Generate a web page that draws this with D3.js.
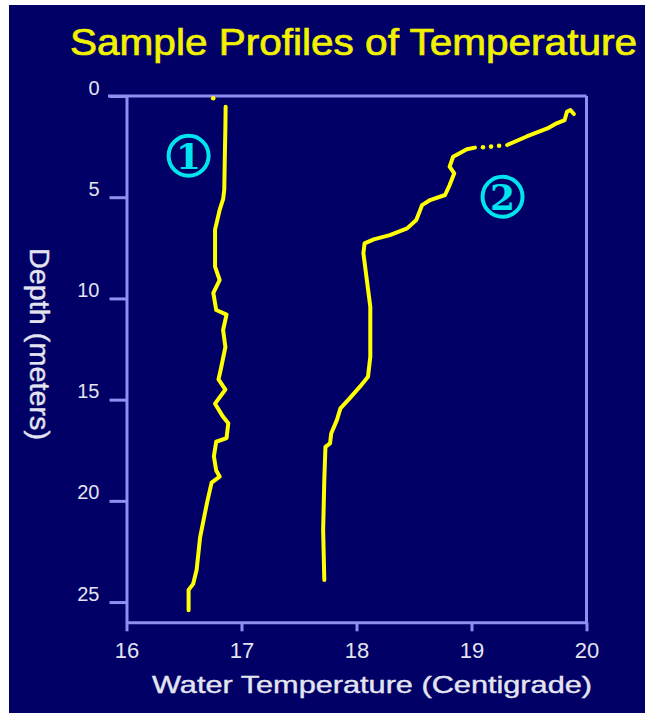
<!DOCTYPE html>
<html>
<head>
<meta charset="utf-8">
<script src="https://cdn.jsdelivr.net/npm/d3@7"></script>
<style>
  body { margin: 0; background: #fff; }
  svg { display: block; }
</style>
</head>
<body>
<div class="chart"></div>
<script>
// profile 1 (left) - depth in meters, temperature in C
const profile1Depth = [0.53, 1.5, 3.0, 4.64, 5.1, 5.63, 6.6, 8.43, 9.09, 9.73, 10.57, 10.8, 11.56, 12.4, 13.5, 14.0, 14.5, 15.2, 15.85, 16.17, 16.9, 17.08, 17.8, 18.5, 18.8, 19.1, 20.1, 21.8, 23.4, 24.1, 24.4, 25.4];
const profile1Temp  = [16.862, 16.86, 16.855, 16.85, 16.84, 16.81, 16.77, 16.77, 16.81, 16.755, 16.78, 16.87, 16.84, 16.86, 16.82, 16.80, 16.86, 16.77, 16.84, 16.885, 16.87, 16.78, 16.76, 16.78, 16.81, 16.74, 16.70, 16.64, 16.61, 16.58, 16.54, 16.54];
// stray reading near the surface
const profile1Stray = [{depth: 0.11, temp: 16.754}];

// profile 2 (right), NaN marks the dotted gap
const profile2Depth = [0.89, 0.69, 0.78, 1.19, 1.35, 1.60, 2.0, 2.42, NaN, 2.55, 2.63, 3.0, 3.49, 3.82, 4.4, 4.89, 5.14, 5.39, 6.13, 6.54, 6.87, 7.08, 7.28, 7.77, 9.09, 10.41, 12.88, 13.87, 14.36, 14.94, 15.43, 16.0, 16.67, 17.16, 17.33, 18.97, 21.44, 23.91];
const profile2Temp  = [19.89, 19.86, 19.83, 19.81, 19.74, 19.66, 19.48, 19.31, NaN, 19.03, 18.96, 18.84, 18.81, 18.85, 18.81, 18.77, 18.64, 18.57, 18.52, 18.44, 18.29, 18.15, 18.07, 18.06, 18.09, 18.12, 18.12, 18.10, 18.03, 17.94, 17.86, 17.83, 17.78, 17.77, 17.73, 17.72, 17.71, 17.72];
const profile2GapDepth = [2.53, 2.50, 2.46];
const profile2GapTemp  = [19.10, 19.17, 19.24];

const xTicks = [16, 17, 18, 19, 20];
const yTicks = [0, 5, 10, 15, 20, 25];
const labels = [{text: "1", temp: 16.54, depth: 2.95}, {text: "2", temp: 19.27, depth: 4.98}];

const W = 645, H = 713;
const axisColor = "#8f8fef";
const textColor = "#e4e4f0";

const svg = d3.select(".chart").append("svg")
    .attr("width", W)
    .attr("height", H);

svg.append("rect")
    .attr("x", 9).attr("y", 5)
    .attr("width", W - 9).attr("height", H - 5)
    .attr("fill", "#000066");

const xScale = d3.scaleLinear().domain([16, 20]).range([126.5, 586.5]);
const yScale = d3.scaleLinear().domain([0, 26]).range([96, 622.3]);

// frame top + right
svg.append("line")
    .attr("x1", 108).attr("x2", xScale(20))
    .attr("y1", yScale(0)).attr("y2", yScale(0))
    .attr("stroke", axisColor).attr("stroke-width", 3);
svg.append("line")
    .attr("x1", xScale(20)).attr("x2", xScale(20))
    .attr("y1", yScale(0)).attr("y2", yScale(26))
    .attr("stroke", axisColor).attr("stroke-width", 3);

const yAxis = d3.axisLeft(yScale)
    .tickValues(yTicks)
    .tickFormat(d3.format("d"))
    .tickSize(17)
    .tickSizeOuter(0)
    .tickPadding(10);

const xAxis = d3.axisBottom(xScale)
    .tickValues(xTicks)
    .tickFormat(d3.format("d"))
    .tickSize(9)
    .tickSizeOuter(0);

const gy = svg.append("g")
    .attr("transform", `translate(${xScale(16)},0)`)
    .call(yAxis);

const gx = svg.append("g")
    .attr("transform", `translate(0,${yScale(26)})`)
    .call(xAxis);

[gx, gy].forEach(g => {
    g.select(".domain").attr("stroke", axisColor).attr("stroke-width", 3);
    g.selectAll(".tick line").attr("stroke", axisColor).attr("stroke-width", 3);
    g.selectAll(".tick text")
        .attr("fill", textColor)
        .attr("font-family", "Liberation Sans, Arial, sans-serif")
        .attr("font-size", 20);
});
gy.selectAll(".tick text").attr("dy", "-0.1em");
gx.selectAll(".tick text").attr("y", 36).attr("dy", 0).attr("font-size", 22);

// profiles
const line = d3.line()
    .defined(d => !isNaN(d.depth))
    .x(d => xScale(d.temp))
    .y(d => yScale(d.depth))
    .curve(d3.curveLinear);

const p1 = profile1Depth.map((d, i) => ({depth: d, temp: profile1Temp[i]}));
const p2 = profile2Depth.map((d, i) => ({depth: d, temp: profile2Temp[i]}));
const gap = profile2GapDepth.map((d, i) => ({depth: d, temp: profile2GapTemp[i]}));

[p1, p2].forEach(p => {
    svg.append("path")
        .datum(p)
        .attr("d", line)
        .attr("fill", "none")
        .attr("stroke", "#ffff00")
        .attr("stroke-width", 4)
        .attr("stroke-linejoin", "round")
        .attr("stroke-linecap", "round");
});

svg.selectAll(".dot")
    .data(profile1Stray.concat(gap))
    .join("circle")
    .attr("cx", d => xScale(d.temp))
    .attr("cy", d => yScale(d.depth))
    .attr("r", 2.3)
    .attr("fill", "#ffff00");

// circled profile numbers
const lab = svg.selectAll(".lab")
    .data(labels)
    .join("g")
    .attr("transform", d => `translate(${xScale(d.temp)},${yScale(d.depth)})`);
lab.append("circle")
    .attr("r", 20)
    .attr("fill", "none")
    .attr("stroke", "#00e4ee")
    .attr("stroke-width", 4);
lab.append("text")
    .text(d => d.text)
    .attr("text-anchor", "middle")
    .attr("y", 13)
    .attr("fill", "#00e4ee")
    .attr("font-family", "DejaVu Serif, serif")
    .attr("font-weight", "bold")
    .attr("font-size", 36);

// titles
svg.append("text")
    .attr("x", 70).attr("y", 55)
    .attr("textLength", 567)
    .attr("lengthAdjust", "spacingAndGlyphs")
    .attr("fill", "#f2f200")
    .attr("stroke", "#f2f200")
    .attr("stroke-width", 0.7)
    .attr("font-family", "Liberation Sans, Arial, sans-serif")
    .attr("font-size", 37)
    .text("Sample Profiles of Temperature");

svg.append("text")
    .attr("x", 152).attr("y", 693)
    .attr("textLength", 440)
    .attr("lengthAdjust", "spacingAndGlyphs")
    .attr("fill", textColor)
    .attr("stroke", textColor)
    .attr("stroke-width", 0.4)
    .attr("font-family", "Liberation Sans, Arial, sans-serif")
    .attr("font-size", 24)
    .text("Water Temperature (Centigrade)");

svg.append("text")
    .attr("transform", "translate(30,248) rotate(90)")
    .attr("textLength", 192)
    .attr("lengthAdjust", "spacingAndGlyphs")
    .attr("fill", textColor)
    .attr("stroke", textColor)
    .attr("stroke-width", 0.4)
    .attr("font-family", "Liberation Sans, Arial, sans-serif")
    .attr("font-size", 28)
    .text("Depth (meters)");
</script>
</body>
</html>
